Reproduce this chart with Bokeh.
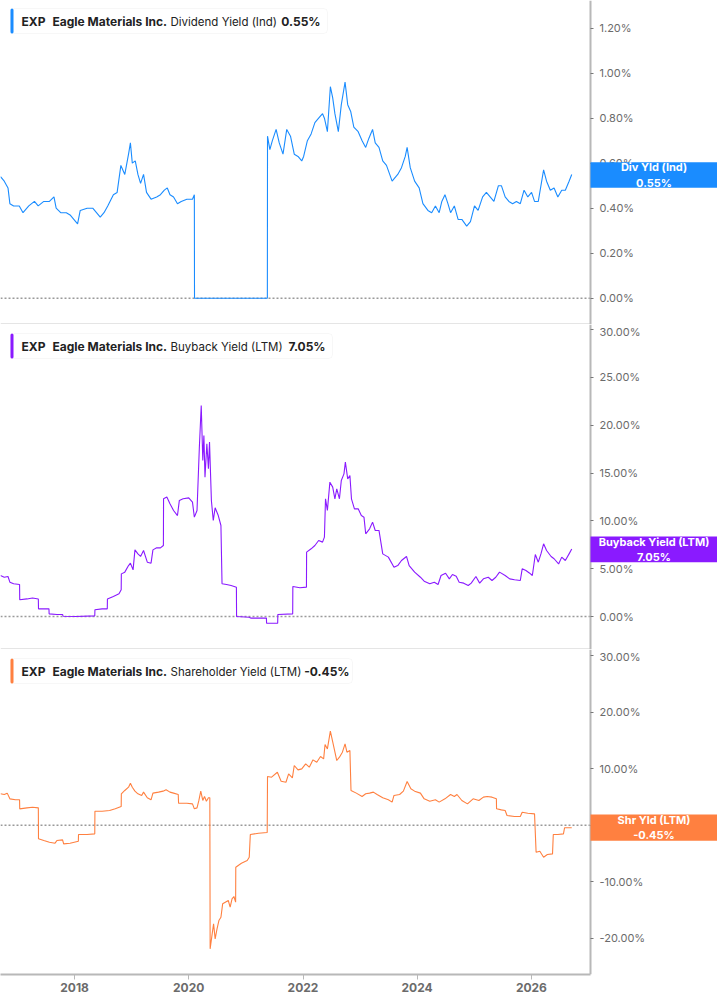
import pandas as pd
from bokeh.plotting import figure
from bokeh.layouts import column
from bokeh.models import (Range1d, FixedTicker, PrintfTickFormatter, DatetimeTickFormatter,
                          LinearAxis, Label, BoxAnnotation)
from bokeh.embed import file_html
from bokeh.resources import INLINE

ticker_name = "EXP"
company = "Eagle Materials Inc."

# Dividend Yield (Ind), %
div_dates = [
    "2016-09-14", "2016-10-08", "2016-11-01", "2016-11-13", "2016-12-07", "2017-01-12",
    "2017-02-05", "2017-03-14", "2017-04-19", "2017-05-13", "2017-06-18", "2017-07-24",
    "2017-08-22", "2017-09-05", "2017-10-04", "2017-11-09", "2017-12-03", "2017-12-27",
    "2018-01-20", "2018-02-06", "2018-03-22", "2018-04-27", "2018-05-21", "2018-06-14",
    "2018-07-08", "2018-08-01", "2018-09-06", "2018-09-30", "2018-10-24", "2018-11-18",
    "2018-12-12", "2018-12-24", "2019-01-05", "2019-01-24", "2019-02-10", "2019-02-27",
    "2019-03-18", "2019-04-06", "2019-05-05", "2019-06-10", "2019-07-04", "2019-07-29",
    "2019-08-17", "2019-09-03", "2019-09-26", "2019-10-21", "2019-11-14", "2019-12-20",
    "2020-01-25", "2020-02-06", "2020-02-07", "2021-05-18", "2021-05-19", "2021-06-03",
    "2021-06-19", "2021-07-13", "2021-08-02", "2021-08-26", "2021-09-19", "2021-10-13",
    "2021-11-06", "2021-11-30", "2021-12-24", "2022-01-05", "2022-01-29", "2022-02-22",
    "2022-03-18", "2022-04-11", "2022-05-06", "2022-05-18", "2022-06-06", "2022-06-25",
    "2022-07-10", "2022-07-24", "2022-08-15", "2022-09-03", "2022-09-27", "2022-10-14",
    "2022-11-02", "2022-11-22", "2022-12-20", "2023-01-14", "2023-02-06", "2023-02-26",
    "2023-03-22", "2023-04-08", "2023-05-02", "2023-05-26", "2023-06-19", "2023-07-25",
    "2023-08-30", "2023-09-23", "2023-10-17", "2023-10-29", "2023-11-18", "2023-12-16",
    "2024-01-14", "2024-02-07", "2024-03-10", "2024-04-03", "2024-04-27", "2024-05-21",
    "2024-06-07", "2024-06-27", "2024-07-16", "2024-08-02", "2024-08-26", "2024-09-19",
    "2024-10-13", "2024-11-13", "2024-12-07", "2025-01-02", "2025-01-25", "2025-02-23",
    "2025-03-19", "2025-04-12", "2025-05-06", "2025-06-04", "2025-06-23", "2025-07-17",
    "2025-08-10", "2025-09-03", "2025-09-27", "2025-10-22", "2025-11-15", "2025-12-09",
    "2026-01-02", "2026-01-21", "2026-02-14", "2026-03-20", "2026-04-08", "2026-05-02",
    "2026-05-26", "2026-06-19", "2026-07-14", "2026-08-06", "2026-08-30", "2026-09-16",
]
div_vals = [
    0.54, 0.52, 0.49, 0.42, 0.41, 0.41,
    0.38, 0.41, 0.43, 0.41, 0.43, 0.43,
    0.45, 0.40, 0.38, 0.38, 0.37, 0.35,
    0.33, 0.39, 0.40, 0.40, 0.38, 0.36,
    0.38, 0.41, 0.46, 0.47, 0.59, 0.55,
    0.64, 0.69, 0.60, 0.61, 0.55, 0.51,
    0.55, 0.47, 0.44, 0.45, 0.46, 0.48,
    0.49, 0.46, 0.45, 0.42, 0.43, 0.44,
    0.44, 0.46, 0.00, 0.00, 0.72, 0.66,
    0.70, 0.75, 0.69, 0.64, 0.75, 0.72,
    0.64, 0.63, 0.61, 0.63, 0.70, 0.73,
    0.78, 0.80, 0.82, 0.80, 0.74, 0.94,
    0.89, 0.82, 0.74, 0.86, 0.96, 0.86,
    0.83, 0.76, 0.74, 0.70, 0.67, 0.71,
    0.75, 0.69, 0.67, 0.61, 0.59, 0.52,
    0.55, 0.58, 0.63, 0.67, 0.58, 0.52,
    0.49, 0.42, 0.39, 0.38, 0.41, 0.38,
    0.43, 0.46, 0.42, 0.38, 0.41, 0.35,
    0.35, 0.32, 0.34, 0.41, 0.39, 0.45,
    0.47, 0.45, 0.43, 0.50, 0.50, 0.45,
    0.43, 0.42, 0.43, 0.42, 0.48, 0.45,
    0.47, 0.43, 0.43, 0.57, 0.52, 0.48,
    0.49, 0.45, 0.48, 0.48, 0.52, 0.55,
]

# Buyback Yield (LTM), %
buy_dates = [
    "2016-09-14", "2016-10-08", "2016-11-01", "2016-11-13", "2016-12-07", "2017-01-14",
    "2017-01-15", "2017-03-02", "2017-04-07", "2017-05-14", "2017-05-15", "2017-06-18",
    "2017-07-21", "2017-07-22", "2017-09-10", "2017-10-16", "2017-10-20", "2018-01-09",
    "2018-05-10", "2018-05-11", "2018-06-26", "2018-07-29", "2018-07-30", "2018-09-06",
    "2018-10-12", "2018-10-26", "2018-10-27", "2018-11-18", "2018-12-12", "2018-12-24",
    "2019-01-10", "2019-01-22", "2019-02-10", "2019-02-27", "2019-03-18", "2019-04-11",
    "2019-05-05", "2019-05-17", "2019-06-10", "2019-07-04", "2019-07-23", "2019-07-24",
    "2019-08-14", "2019-09-03", "2019-09-26", "2019-10-21", "2019-11-02", "2019-11-26",
    "2020-01-01", "2020-01-25", "2020-02-06", "2020-02-23", "2020-03-09", "2020-03-21",
    "2020-03-31", "2020-04-07", "2020-04-14", "2020-04-26", "2020-05-06", "2020-05-13",
    "2020-05-25", "2020-06-06", "2020-06-18", "2020-07-08", "2020-07-25", "2020-08-01",
    "2020-08-30", "2020-09-28", "2020-11-01", "2020-11-02", "2021-01-22", "2021-02-03",
    "2021-05-12", "2021-05-13", "2021-07-23", "2021-07-24", "2021-10-27", "2021-10-28",
    "2021-12-12", "2022-01-23", "2022-01-24", "2022-02-22", "2022-03-18", "2022-04-11",
    "2022-05-06", "2022-05-18", "2022-05-25", "2022-06-06", "2022-06-22", "2022-07-10",
    "2022-07-24", "2022-08-05", "2022-08-22", "2022-09-03", "2022-09-20", "2022-09-29",
    "2022-10-14", "2022-10-28", "2022-11-07", "2022-11-26", "2022-12-20", "2023-01-09",
    "2023-01-26", "2023-02-06", "2023-03-03", "2023-03-22", "2023-04-08", "2023-05-02",
    "2023-05-26", "2023-07-01", "2023-08-06", "2023-08-30", "2023-09-23", "2023-10-25",
    "2023-11-11", "2023-12-16", "2024-01-22", "2024-02-15", "2024-03-22", "2024-04-20",
    "2024-05-14", "2024-06-02", "2024-07-01", "2024-07-25", "2024-08-14", "2024-09-07",
    "2024-09-26", "2024-10-25", "2024-11-23", "2024-12-12", "2025-01-11", "2025-02-04",
    "2025-02-28", "2025-03-31", "2025-04-24", "2025-05-18", "2025-06-11", "2025-07-17",
    "2025-08-15", "2025-09-15", "2025-10-22", "2025-11-03", "2025-11-27", "2025-12-21",
    "2026-01-07", "2026-01-26", "2026-02-14", "2026-03-03", "2026-03-20", "2026-04-08",
    "2026-05-07", "2026-05-26", "2026-06-24", "2026-07-14", "2026-08-06", "2026-08-30",
    "2026-09-16",
]
buy_vals = [
    4.29, 4.11, 4.18, 3.59, 3.42, 3.35,
    1.75, 1.84, 1.94, 1.84, 0.80, 0.80,
    0.80, 0.28, 0.21, 0.21, 0.02, 0.00,
    0.07, 0.70, 0.80, 0.80, 1.84, 2.09,
    2.37, 2.79, 4.46, 4.64, 5.33, 5.58,
    4.88, 6.97, 6.55, 6.28, 6.90, 5.68,
    5.58, 6.97, 7.18, 7.18, 7.43, 12.31,
    12.49, 11.79, 11.09, 10.56, 12.14, 12.31,
    12.41, 11.96, 10.39, 11.09, 17.71, 22.07,
    16.32, 18.93, 14.57, 18.07, 15.45, 18.24,
    12.14, 10.04, 11.37, 10.56, 9.52, 3.42,
    3.35, 3.24, 3.07, 0.00, -0.07, -0.17,
    -0.17, -0.70, -0.70, 0.21, 0.28, 3.14,
    3.00, 3.07, 6.73, 7.08, 7.43, 7.95,
    7.78, 8.30, 12.31, 11.09, 14.05, 13.53,
    12.31, 13.35, 12.31, 14.23, 14.92, 16.14,
    14.40, 14.75, 12.31, 11.26, 11.26, 10.56,
    10.39, 8.65, 9.17, 9.87, 9.00, 9.00,
    6.55, 6.21, 5.16, 5.33, 5.86, 6.28,
    5.33, 4.64, 4.11, 3.70, 3.42, 3.59,
    3.35, 4.29, 4.53, 3.94, 4.39, 4.22,
    3.59, 3.49, 3.24, 3.49, 4.18, 3.49,
    3.94, 4.11, 3.77, 4.11, 4.64, 4.29,
    3.94, 3.84, 3.77, 4.99, 4.81, 4.53,
    4.29, 6.49, 5.68, 6.55, 7.60, 6.90,
    6.28, 6.04, 5.50, 6.21, 5.86, 6.55,
    7.05,
]

# Shareholder Yield (LTM), %
shr_dates = [
    "2016-09-14", "2016-10-08", "2016-10-27", "2016-11-13", "2016-12-19", "2017-01-14",
    "2017-01-15", "2017-03-02", "2017-04-07", "2017-05-14", "2017-05-15", "2017-06-18",
    "2017-07-24", "2017-08-29", "2017-09-10", "2017-10-16", "2017-10-23", "2017-12-03",
    "2018-01-25", "2018-01-26", "2018-03-22", "2018-05-10", "2018-05-11", "2018-06-26",
    "2018-08-13", "2018-09-18", "2018-10-26", "2018-10-27", "2018-11-18", "2018-12-12",
    "2018-12-24", "2019-01-05", "2019-01-22", "2019-02-10", "2019-03-06", "2019-03-18",
    "2019-04-11", "2019-05-05", "2019-05-17", "2019-06-22", "2019-07-21", "2019-08-09",
    "2019-09-03", "2019-09-26", "2019-10-26", "2019-10-28", "2019-12-20", "2020-01-25",
    "2020-02-06", "2020-02-23", "2020-03-06", "2020-03-18", "2020-03-31", "2020-04-11",
    "2020-04-23", "2020-05-06", "2020-05-15", "2020-05-17", "2020-05-30", "2020-06-08",
    "2020-06-18", "2020-06-30", "2020-07-12", "2020-07-25", "2020-08-05", "2020-08-22",
    "2020-09-10", "2020-09-22", "2020-10-04", "2020-10-16", "2020-10-27", "2020-10-28",
    "2020-12-03", "2021-01-09", "2021-01-22", "2021-01-29", "2021-03-22", "2021-05-17",
    "2021-05-19", "2021-06-14", "2021-07-21", "2021-08-14", "2021-09-14", "2021-10-01",
    "2021-10-25", "2021-11-06", "2021-11-30", "2021-12-24", "2022-01-18", "2022-02-10",
    "2022-03-06", "2022-03-30", "2022-04-23", "2022-05-13", "2022-05-22", "2022-06-06",
    "2022-06-25", "2022-07-17", "2022-08-05", "2022-08-22", "2022-09-10", "2022-09-27",
    "2022-10-09", "2022-10-28", "2022-11-04", "2022-12-08", "2023-01-14", "2023-02-06",
    "2023-03-03", "2023-03-27", "2023-04-20", "2023-05-26", "2023-07-01", "2023-07-25",
    "2023-08-06", "2023-09-11", "2023-10-05", "2023-10-29", "2023-11-22", "2023-12-16",
    "2024-01-22", "2024-02-15", "2024-03-22", "2024-04-27", "2024-05-21", "2024-06-27",
    "2024-08-02", "2024-08-26", "2024-09-12", "2024-10-13", "2024-11-18", "2024-12-24",
    "2025-01-30", "2025-02-28", "2025-03-24", "2025-04-24", "2025-05-22", "2025-05-23",
    "2025-06-23", "2025-07-17", "2025-07-29", "2025-09-15", "2025-10-22", "2025-11-03",
    "2025-12-09", "2026-01-21", "2026-01-31", "2026-02-24", "2026-03-20", "2026-04-13",
    "2026-05-16", "2026-05-21", "2026-06-19", "2026-07-25", "2026-08-01", "2026-09-16",
]
shr_vals = [
    5.56, 5.44, 5.68, 4.67, 4.50, 4.50,
    2.90, 3.07, 3.19, 3.07, -2.41, -2.71,
    -3.00, -3.18, -2.71, -2.59, -3.30, -3.18,
    -2.83, -1.65, -1.65, -1.53, 2.48, 2.48,
    2.60, 2.90, 3.30, 5.56, 6.15, 6.73,
    7.43, 6.73, 6.03, 5.56, 5.27, 5.86,
    4.85, 4.50, 5.68, 5.86, 6.03, 6.27,
    5.86, 5.68, 5.44, 3.90, 3.90, 3.78,
    2.90, 3.07, 4.38, 6.03, 4.38, 5.09,
    4.25, 4.85, 4.85, -21.88, -19.22, -17.45,
    -20.11, -18.34, -16.87, -16.28, -13.91, -13.62,
    -13.32, -14.50, -13.03, -12.61, -13.62, -7.43,
    -6.73, -6.25, -5.66, -1.65, -1.42, -1.30,
    8.62, 8.50, 9.38, 7.79, 7.61, 9.09,
    8.38, 10.57, 9.80, 9.97, 10.86, 10.27,
    11.57, 11.15, 12.16, 11.74, 14.28, 13.51,
    16.64, 13.86, 11.45, 12.04, 12.93, 14.40,
    12.93, 13.22, 6.15, 5.68, 5.09, 5.56,
    5.68, 5.86, 5.44, 4.85, 4.50, 4.09,
    5.27, 5.44, 6.03, 7.73, 6.44, 6.03,
    5.68, 4.67, 4.25, 4.50, 4.09, 4.67,
    5.44, 5.09, 5.44, 4.38, 3.78, 4.67,
    4.38, 4.97, 5.09, 4.97, 4.67, 2.90,
    2.71, 2.60, 1.72, 1.54, 1.54, 2.31,
    2.12, 2.01, -4.78, -4.60, -5.66, -5.19,
    -5.07, -1.65, -1.65, -1.53, -0.46, -0.45,
]

year_ticks = ["2018-01-01", "2020-01-01", "2022-01-01", "2024-01-01", "2026-01-01"]

panels = [
    dict(dates=div_dates, vals=div_vals, name="Dividend Yield (Ind)", short="Div Yld (Ind)",
         last="0.55%", color="#1a8cff", yr=(-0.117, 1.323), ticks=[0, 0.2, 0.4, 0.6, 0.8, 1.0, 1.2],
         height=324, box_right=327, val_right=320, tag=(0.604, 0.491)),
    dict(dates=buy_dates, vals=buy_vals, name="Buyback Yield (LTM)", short="Buyback Yield (LTM)",
         last="7.05%", color="#8a1aff", yr=(-3.45, 30.54), ticks=[0, 5, 10, 15, 20, 25, 30],
         height=325, box_right=332, val_right=325, tag=(8.37, 5.68)),
    dict(dates=shr_dates, vals=shr_vals, name="Shareholder Yield (LTM)", short="Shr Yld (LTM)",
         last="-0.45%", color="#ff8040", yr=(-26.42, 31.10), ticks=[-20, -10, 0, 10, 20, 30],
         height=325, box_right=352, val_right=349, tag=(1.89, -2.76)),
]

W = 717          # canvas width; the value axis sits at AXIS_PX from the left
AXIS_PX = 590
x_start = pd.Timestamp("2016-09-14")
x_axis_at = pd.Timestamp("2027-01-14")
x_end = x_start + (x_axis_at - x_start) * (W / AXIS_PX)
x_range = Range1d(x_start, x_end)
axis_ms = x_axis_at.value / 1e6

FONT = "Inter"
GRID_GRAY = "#b8b8b8"
figs = []

for i, d in enumerate(panels):
    bottom = i == len(panels) - 1
    p = figure(width=W, height=d["height"] + (26 if bottom else 0),
               x_range=x_range, y_range=Range1d(*d["yr"]),
               x_axis_type="datetime", x_axis_location="below" if bottom else None,
               y_axis_location=None, output_backend="svg", toolbar_location=None,
               min_border_left=0, min_border_top=0, min_border_bottom=26 if bottom else 0,
               min_border_right=0, outline_line_color=None,
               background_fill_color="white", border_fill_color="white")
    p.grid.visible = False

    ya = LinearAxis(fixed_location=axis_ms, ticker=FixedTicker(ticks=d["ticks"]),
                    formatter=PrintfTickFormatter(format="%.2f%%"))
    ya.axis_line_color = GRID_GRAY
    ya.axis_line_width = 2
    ya.major_tick_in = 0
    ya.major_tick_out = 3
    ya.major_tick_line_color = "#777777"
    ya.minor_tick_line_color = None
    ya.major_label_standoff = 6
    ya.major_label_text_font = FONT
    ya.major_label_text_font_size = "11px"
    ya.major_label_text_color = "#6b6b6b"
    p.add_layout(ya, "right")

    if bottom:
        xa = p.xaxis[0]
        xa.bounds = (x_start.value / 1e6, axis_ms)
        xa.ticker = FixedTicker(ticks=[pd.Timestamp(t).value / 1e6 for t in year_ticks])
        xa.formatter = DatetimeTickFormatter(days="%Y", months="%Y", years="%Y")
        xa.axis_line_color = GRID_GRAY
        xa.axis_line_width = 2
        xa.major_tick_in = 0
        xa.major_tick_out = 5
        xa.major_tick_line_color = GRID_GRAY
        xa.minor_tick_line_color = None
        xa.major_label_standoff = 3
        xa.major_label_text_font = FONT
        xa.major_label_text_font_size = "12px"
        xa.major_label_text_font_style = "bold"
        xa.major_label_text_color = "#6b6b6b"
    else:
        # thin separator under the panel, up to the value axis
        p.add_layout(BoxAnnotation(left=0, right=AXIS_PX, bottom=0, top=1,
                                   left_units="screen", right_units="screen",
                                   top_units="screen", bottom_units="screen",
                                   fill_color="#cccccc", fill_alpha=1, line_color=None,
                                   level="underlay"))

    # dotted zero line
    p.segment(x0=[x_start], y0=[0], x1=[x_axis_at], y1=[0], line_color="#9a9a9a",
              line_dash="2 2", line_width=1.5)

    p.line(pd.to_datetime(d["dates"]), d["vals"], line_color=d["color"], line_width=1.1)

    # legend box
    p.add_layout(BoxAnnotation(left=10, right=d["box_right"], top=316, bottom=291,
                               left_units="screen", right_units="screen",
                               top_units="screen", bottom_units="screen",
                               fill_color="white", fill_alpha=1, line_color="#e4e4e4",
                               line_width=1, border_radius=4))
    p.add_layout(BoxAnnotation(left=10, right=13, top=316, bottom=291,
                               left_units="screen", right_units="screen",
                               top_units="screen", bottom_units="screen",
                               fill_color=d["color"], fill_alpha=1, line_color=None,
                               border_radius=2))
    for txt, x, style, size, align in [(ticker_name, 21, "bold", "12px", "left"),
                                       (company, 52, "bold", "12px", "left"),
                                       (d["name"], 170, "normal", "11.5px", "left"),
                                       (d["last"], d["val_right"], "bold", "12px", "right")]:
        p.add_layout(Label(x=x, y=303, x_units="screen", y_units="screen", text=txt,
                           text_font=FONT, text_font_size=size, text_font_style=style,
                           text_color="#222222", text_baseline="middle", text_align=align))

    # last value tag over the value axis
    top, bot = d["tag"]
    p.add_layout(BoxAnnotation(left=AXIS_PX, right=W, top=top, bottom=bot,
                               left_units="screen", right_units="screen",
                               fill_color=d["color"], fill_alpha=1, line_color=None))
    p.add_layout(Label(x=(AXIS_PX + W) / 2, y=(top + bot) / 2, x_units="screen", y_units="data",
                       text=d["short"] + "\n" + d["last"],
                       text_font=FONT, text_font_size="11px", text_font_style="bold",
                       text_color="white", text_align="center", text_baseline="middle",
                       text_line_height=1.1))
    figs.append(p)

layout = column(*figs, spacing=0)
open("out.html", "w").write(file_html(layout, INLINE))
